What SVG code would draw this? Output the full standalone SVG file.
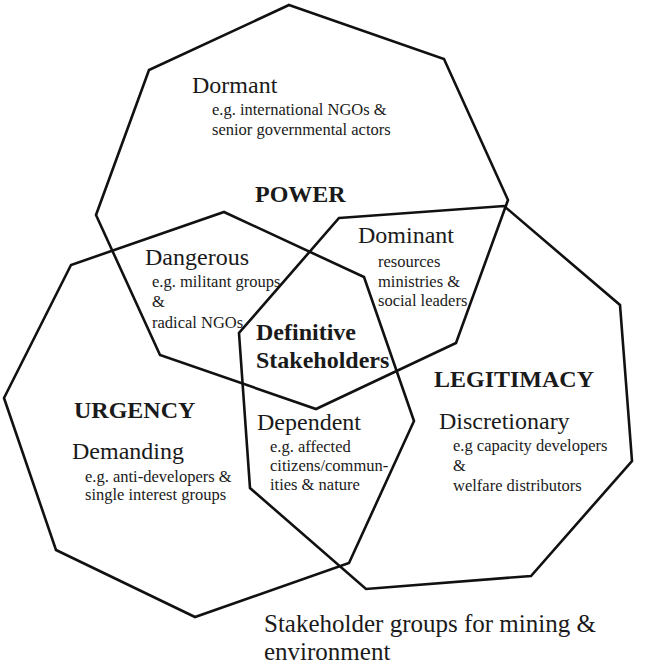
<svg xmlns="http://www.w3.org/2000/svg" width="650" height="668" viewBox="0 0 650 668">
<style>
.shape{fill:none;stroke:#111;stroke-width:2.6;stroke-linejoin:miter}
text{font-family:"Liberation Serif","Times New Roman",serif;fill:#1a1a1a}
.cat{font-size:24px}
.ex{font-size:16.5px}
.big{font-size:24px;font-weight:bold}
.cap{font-size:25px}
</style>
<rect width="650" height="668" fill="#ffffff"/>
<g id="connectors">
<polygon id="power-shape" class="shape" points="289,5 444,59 508,200 456,343 316,409 160,355 96,215 149,70"/>
<polygon id="urgency-shape" class="shape" points="224,212 364,277 414,421 349,563 195,617 56,550 4,398 71,265"/>
<polygon id="legitimacy-shape" class="shape" points="339,218 504,206 620,305 632,461 531,576 366,589 250,488 239,333"/>
</g>
<g id="power">
<text class="big" x="255" y="202">POWER</text>
</g>
<g id="dormant">
<text class="cat" x="192" y="93">Dormant</text>
<text class="ex" x="212" y="115">e.g. international NGOs &amp;</text>
<text class="ex" x="212" y="135">senior governmental actors</text>
</g>
<g id="dominant">
<text class="cat" x="358" y="243">Dominant</text>
<text class="ex" x="378" y="267">resources</text>
<text class="ex" x="378" y="287">ministries &amp;</text>
<text class="ex" x="378" y="306">social leaders</text>
</g>
<g id="dangerous">
<text class="cat" x="145" y="265">Dangerous</text>
<text class="ex" x="152" y="287">e.g. militant groups</text>
<text class="ex" x="152" y="307">&amp;</text>
<text class="ex" x="152" y="328">radical NGOs</text>
</g>
<g id="definitive">
<text class="big" x="256" y="340">Definitive</text>
<text class="big" x="256" y="368">Stakeholders</text>
</g>
<g id="legitimacy">
<text class="big" x="434" y="387">LEGITIMACY</text>
</g>
<g id="urgency">
<text class="big" x="74" y="418">URGENCY</text>
</g>
<g id="demanding">
<text class="cat" x="72" y="459">Demanding</text>
<text class="ex" x="85" y="482">e.g. anti-developers &amp;</text>
<text class="ex" x="85" y="500">single interest groups</text>
</g>
<g id="dependent">
<text class="cat" x="257" y="430">Dependent</text>
<text class="ex" x="270" y="452">e.g. affected</text>
<text class="ex" x="270" y="471">citizens/commun-</text>
<text class="ex" x="270" y="490">ities &amp; nature</text>
</g>
<g id="discretionary">
<text class="cat" x="439" y="429">Discretionary</text>
<text class="ex" x="453" y="451">e.g capacity developers</text>
<text class="ex" x="453" y="471">&amp;</text>
<text class="ex" x="453" y="491">welfare distributors</text>
</g>
<g id="caption">
<text class="cap" x="264" y="632">Stakeholder groups for mining &amp;</text>
<text class="cap" x="264" y="660">environment</text>
</g>
</svg>
